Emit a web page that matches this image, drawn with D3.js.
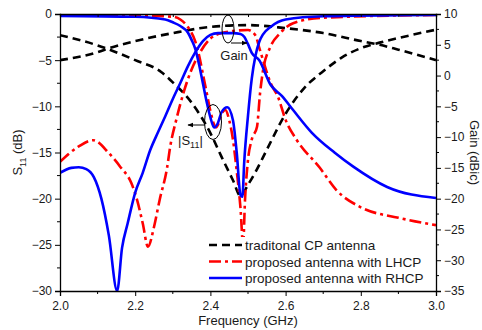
<!DOCTYPE html>
<html lang="en">
<head>
    <meta charset="UTF-8">
    <title>S11 and gain</title>
    <style>
        body { margin: 0; background: #fff; }
        svg text { font-family: "Liberation Sans", Arial, sans-serif; fill: #1a1a1a; }
    </style>
</head>
<body>

    <svg id="svg" width="482" height="330"></svg>

    <script src="https://d3js.org/d3.v7.min.js"></script>
    <script>
        // [frequency GHz, value]
        const tradS11 = [[2.0,-2.3],[2.1,-3.4],[2.2,-5.0],[2.27,-6.3],[2.3,-7.4],[2.35,-9.6],[2.4,-12.9],[2.43,-15.5],[2.46,-18],[2.48,-19.7],[2.5,-18.5],[2.52,-17.1],[2.55,-14.7],[2.6,-10.8],[2.65,-8.0],[2.7,-6.2],[2.75,-4.7],[2.8,-3.7],[2.85,-3.1],[2.9,-2.6],[3.0,-1.7]]
        const tradGain = [[2.0,2.5],[2.1,3.8],[2.133,4.5],[2.2,5.6],[2.3,6.9],[2.4,7.9],[2.5,8.2],[2.6,7.7],[2.7,6.9],[2.8,5.6],[2.85,5.0],[2.9,4.2],[3.0,2.5]]

        const lhcpS11 = [[2.0,-0.1],[2.2,-0.15],[2.3,-0.3],[2.32,-0.6],[2.34,-1.4],[2.36,-3.0],[2.37,-4.5],[2.38,-6.5],[2.39,-8.5],[2.4,-10.5],[2.41,-12.0],[2.415,-12.3],[2.42,-12.0],[2.43,-10.8],[2.44,-10.4],[2.45,-11.5],[2.46,-13.6],[2.47,-17],[2.48,-21],[2.487,-25],[2.492,-20.2],[2.5,-15.8],[2.51,-13.6],[2.524,-12.2],[2.532,-8.6],[2.54,-6.1],[2.559,-3.6],[2.585,-2.1],[2.62,-1.0],[2.7,-0.4],[3.0,-0.1]]
        const lhcpGain = [[2.0,-14.0],[2.05,-11.5],[2.088,-10.5],[2.13,-12.6],[2.16,-14.8],[2.19,-17.5],[2.205,-20.2],[2.22,-24],[2.234,-27.8],[2.25,-24.6],[2.265,-20.2],[2.285,-14.9],[2.293,-11.6],[2.31,-7.0],[2.33,-2.5],[2.35,1.0],[2.37,3.5],[2.4,6.0],[2.43,6.9],[2.5,7.4],[2.52,6.5],[2.53,4.5],[2.54,2.5],[2.56,-1.2],[2.58,-3.5],[2.6,-7.2],[2.63,-10.5],[2.69,-14.9],[2.735,-18.6],[2.8,-21.4],[2.9,-23.1],[3.0,-24.3]]

        const rhcpS11 = [[2.0,-0.2],[2.2,-0.3],[2.28,-0.6],[2.3,-0.9],[2.32,-1.3],[2.34,-2.0],[2.35,-2.8],[2.36,-3.8],[2.37,-5.5],[2.38,-7.5],[2.39,-9.5],[2.4,-11.2],[2.41,-12.3],[2.42,-11.8],[2.43,-10.6],[2.445,-10.1],[2.46,-11.5],[2.47,-15],[2.48,-19.6],[2.485,-19.8],[2.49,-16],[2.5,-11],[2.51,-7],[2.52,-4.5],[2.53,-3.0],[2.54,-2.2],[2.56,-1.4],[2.6,-0.6],[2.7,-0.25],[3.0,-0.1]]
        const rhcpGain = [[2.0,-15.8],[2.03,-15.0],[2.05,-14.9],[2.07,-15.2],[2.09,-16.5],[2.11,-20],[2.13,-26],[2.152,-35],[2.165,-28],[2.18,-24],[2.2,-19],[2.22,-15.8],[2.24,-12.1],[2.26,-9.3],[2.28,-6.6],[2.3,-3.8],[2.32,-1.2],[2.34,1.5],[2.36,3.8],[2.38,5.6],[2.4,6.6],[2.42,6.9],[2.46,6.9],[2.48,6.75],[2.49,6.3],[2.5,5.1],[2.51,3.7],[2.53,2.5],[2.56,-1.5],[2.59,-3.3],[2.62,-5.6],[2.67,-9.3],[2.73,-12.5],[2.78,-14.8],[2.87,-18.1],[3.0,-19.9]]

        const xTicks = [2.0, 2.2, 2.4, 2.6, 2.8, 3.0]
        const s11Ticks = [0, -5, -10, -15, -20, -25, -30]
        const gainTicks = [10, 5, 0, -5, -10, -15, -20, -25, -30, -35]
        const legendNames = ['traditonal CP antenna', 'proposed antenna with LHCP', 'proposed antenna with RHCP']

        const mLeft = 60, mRight = 436, mTop = 14, mBottom = 291

        const svg = d3.select('#svg')

        const xScale = d3.scaleLinear().domain([2.0, 3.0]).range([mLeft, mRight])
        const yScale = d3.scaleLinear().domain([-30, 0]).range([mBottom, mTop])
        const gScale = d3.scaleLinear().domain([-35, 10]).range([mBottom, mTop])

        svg.append('clipPath').attr('id', 'clip')
            .append('rect').attr('x', mLeft).attr('y', mTop)
            .attr('width', mRight - mLeft).attr('height', mBottom - mTop)

        const plot = svg.append('g').attr('clip-path', 'url(#clip)')

        const styles = {
            black: { color: '#000', dash: '8,5' },
            red: { color: '#ff0000', dash: '12,4,3,4' },
            blue: { color: '#0000ff', dash: null }
        }

        function drawLine(data, y, st) {
            const line = d3.line()
                .x(d => xScale(d[0]))
                .y(d => y(d[1]))
                .curve(d3.curveMonotoneX)
            plot.append('path')
                .datum(data)
                .attr('d', line)
                .attr('fill', 'none')
                .attr('stroke', st.color)
                .attr('stroke-width', 2.6)
                .attr('stroke-dasharray', st.dash)
        }

        drawLine(tradS11, yScale, styles.black)
        drawLine(tradGain, gScale, styles.black)
        drawLine(lhcpGain, gScale, styles.red)
        drawLine(lhcpS11, yScale, styles.red)
        drawLine(rhcpGain, gScale, styles.blue)
        drawLine(rhcpS11, yScale, styles.blue)

        // axes
        const bottomAxis = d3.axisBottom(xScale).tickValues(xTicks).tickFormat(d3.format('.1f')).tickSize(5)
        const bx = svg.append('g').attr('transform', `translate(0,${mBottom})`).call(bottomAxis)
        bx.selectAll('line.minor').data(d3.range(2.1, 3.0, 0.2)).enter().append('line')
            .attr('x1', d => xScale(d)).attr('x2', d => xScale(d)).attr('y1', 0).attr('y2', 3).attr('stroke', '#000')

        const topAxis = d3.axisTop(xScale).tickValues(d3.range(2.0, 3.01, 0.1)).tickFormat('').tickSize(-3)
        svg.append('g').attr('transform', `translate(0,${mTop})`).call(topAxis)

        const leftAxis = d3.axisLeft(yScale).tickValues(s11Ticks).tickSize(5)
        const lx = svg.append('g').attr('transform', `translate(${mLeft},0)`).call(leftAxis)
        lx.selectAll('line.minor').data(d3.range(-27.5, 0, 5)).enter().append('line')
            .attr('x1', 0).attr('x2', -3).attr('y1', d => yScale(d)).attr('y2', d => yScale(d)).attr('stroke', '#000')

        const rightAxis = d3.axisRight(gScale).tickValues(gainTicks).tickSize(5)
        const rx = svg.append('g').attr('transform', `translate(${mRight},0)`).call(rightAxis)
        rx.selectAll('line.minor').data(d3.range(-32.5, 10, 5)).enter().append('line')
            .attr('x1', 0).attr('x2', 3).attr('y1', d => gScale(d)).attr('y2', d => gScale(d)).attr('stroke', '#000')

        svg.selectAll('.domain').attr('stroke', '#000').attr('stroke-width', 1.3)
        svg.selectAll('.tick line').attr('stroke', '#000')
        svg.selectAll('.tick text').style('font-size', '12px').attr('fill', '#1a1a1a')
        bx.selectAll('.tick text').attr('dy', '0.95em')

        // axis titles
        svg.append('text').attr('x', (mLeft + mRight) / 2).attr('y', 325)
            .attr('text-anchor', 'middle').style('font-size', '13px').text('Frequency (GHz)')

        const ly = svg.append('text').attr('transform', `translate(22,${(mTop + mBottom) / 2}) rotate(-90)`)
            .attr('text-anchor', 'middle').style('font-size', '13px')
        ly.append('tspan').text('S')
        ly.append('tspan').attr('dy', 4).style('font-size', '9px').text('11')
        ly.append('tspan').attr('dy', -4).text(' (dB)')

        svg.append('text').attr('transform', `translate(470,${(mTop + mBottom) / 2}) rotate(90)`)
            .attr('text-anchor', 'middle').style('font-size', '13px').text('Gain (dBic)')

        // annotations
        svg.append('ellipse').attr('cx', 228).attr('cy', 29).attr('rx', 6).attr('ry', 14)
            .attr('fill', 'none').attr('stroke', '#000').attr('stroke-width', 1)
        svg.append('defs').append('marker').attr('id', 'arr').attr('viewBox', '0 0 10 10')
            .attr('refX', 9).attr('refY', 5).attr('markerWidth', 6).attr('markerHeight', 6).attr('orient', 'auto')
            .append('path').attr('d', 'M0,1 L10,5 L0,9 Z').attr('fill', '#000')
        svg.append('line').attr('x1', 231).attr('y1', 43).attr('x2', 247).attr('y2', 43)
            .attr('stroke', '#000').attr('marker-end', 'url(#arr)')
        svg.append('text').attr('x', 234).attr('y', 60).attr('text-anchor', 'middle').style('font-size', '13px').text('Gain')

        svg.append('ellipse').attr('cx', 213).attr('cy', 122).attr('rx', 8.5).attr('ry', 17.5)
            .attr('fill', 'none').attr('stroke', '#000').attr('stroke-width', 1)
        svg.append('line').attr('x1', 205).attr('y1', 125).attr('x2', 188).attr('y2', 125)
            .attr('stroke', '#000').attr('marker-end', 'url(#arr)')
        const st = svg.append('text').attr('x', 178).attr('y', 145).style('font-size', '13px')
        st.append('tspan').text('|S')
        st.append('tspan').attr('dy', 3).style('font-size', '9px').text('11')
        st.append('tspan').attr('dy', -3).text('|')

        // legend
        const lg = svg.append('g')
        const legStyles = [styles.black, styles.red, styles.blue]
        legendNames.forEach((name, i) => {
            const y = 245 + i * 16.5
            lg.append('rect').attr('x', 208).attr('y', y - 8).attr('width', 220).attr('height', 16.5).attr('fill', '#fff')
        })
        legendNames.forEach((name, i) => {
            const y = 245 + i * 16.5
            lg.append('line').attr('x1', 209).attr('x2', 242).attr('y1', y).attr('y2', y)
                .attr('stroke', legStyles[i].color).attr('stroke-width', 2.6)
                .attr('stroke-dasharray', legStyles[i].dash)
            lg.append('text').attr('x', 245).attr('y', y + 5).style('font-size', '13.5px').text(name)
        })
    </script>
</body>
</html>
